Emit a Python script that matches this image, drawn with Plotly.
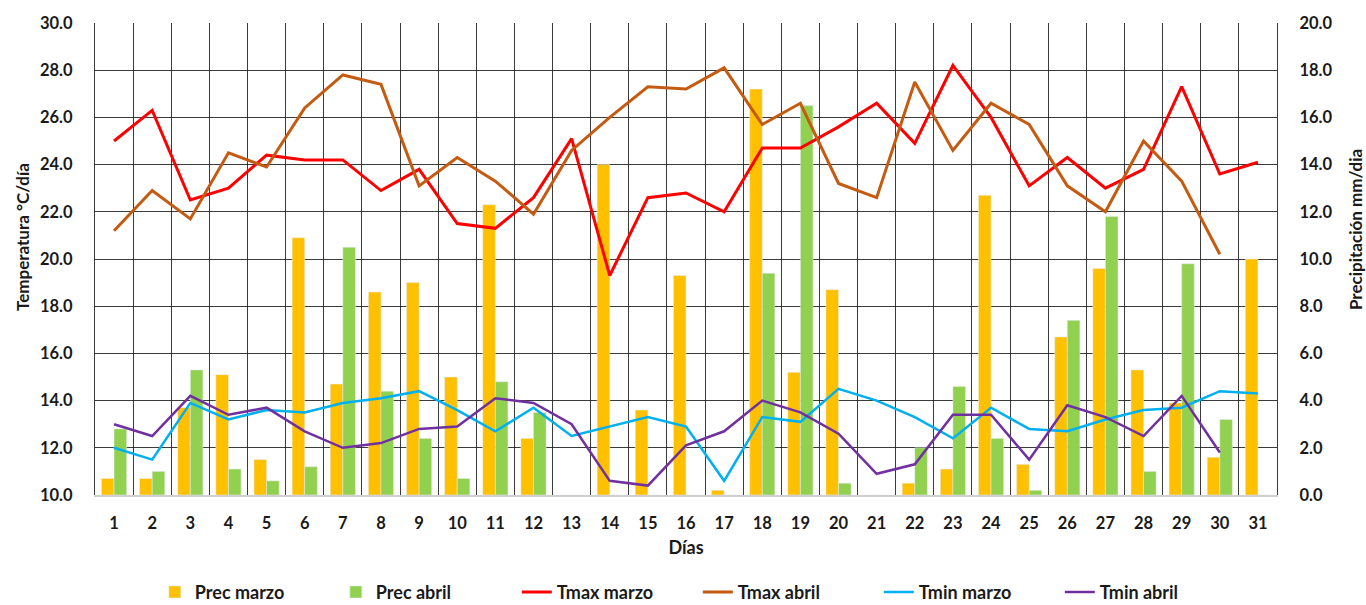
import plotly.graph_objects as go

dias = list(range(1, 32))

prec_marzo = [0.7, 0.7, 3.7, 5.1, 1.5, 10.9, 4.7, 8.6, 9.0, 5.0, 12.3, 2.4, 0.0, 14.0, 3.6, 9.3,
              0.2, 17.2, 5.2, 8.7, 0.0, 0.5, 1.1, 12.7, 1.3, 6.7, 9.6, 5.3, 3.9, 1.6, 10.0]
prec_abril = [2.8, 1.0, 5.3, 1.1, 0.6, 1.2, 10.5, 4.4, 2.4, 0.7, 4.8, 3.5, 0.0, 0.0, 0.0, 0.0,
              0.0, 9.4, 16.5, 0.5, 0.0, 2.0, 4.6, 2.4, 0.2, 7.4, 11.8, 1.0, 9.8, 3.2, 0.0]
tmax_marzo = [25.0, 26.3, 22.5, 23.0, 24.4, 24.2, 24.2, 22.9, 23.8, 21.5, 21.3, 22.6, 25.1, 19.3,
              22.6, 22.8, 22.0, 24.7, 24.7, 25.6, 26.6, 24.9, 28.2, 26.0, 23.1, 24.3, 23.0, 23.8,
              27.3, 23.6, 24.1]
tmax_abril = [21.2, 22.9, 21.7, 24.5, 23.9, 26.4, 27.8, 27.4, 23.1, 24.3, 23.3, 21.9, 24.6, 26.0,
              27.3, 27.2, 28.1, 25.7, 26.6, 23.2, 22.6, 27.5, 24.6, 26.6, 25.7, 23.1, 22.0, 25.0,
              23.3, 20.2, None]
tmin_marzo = [12.0, 11.5, 13.9, 13.2, 13.6, 13.5, 13.9, 14.1, 14.4, 13.6, 12.7, 13.7, 12.5, 12.9,
              13.3, 12.9, 10.6, 13.3, 13.1, 14.5, 14.0, 13.3, 12.4, 13.7, 12.8, 12.7, 13.2, 13.6,
              13.7, 14.4, 14.3]
tmin_abril = [13.0, 12.5, 14.2, 13.4, 13.7, 12.7, 12.0, 12.2, 12.8, 12.9, 14.1, 13.9, 13.0, 10.6,
              10.4, 12.1, 12.7, 14.0, 13.5, 12.6, 10.9, 11.3, 13.4, 13.4, 11.5, 13.8, 13.3, 12.5,
              14.2, 11.8, None]

FONT = "Lato"
GRID = "rgba(25,25,25,0.85)"
TXT = "#1a1a1a"

fig = go.Figure()
fig.add_trace(go.Bar(x=dias, y=prec_marzo, name="Prec marzo", marker_color="#FFC000",
                     yaxis="y"))
fig.add_trace(go.Bar(x=dias, y=prec_abril, name="Prec abril", marker_color="#92D050",
                     yaxis="y"))
fig.add_trace(go.Scatter(x=dias, y=tmax_marzo, name="Tmax marzo", mode="lines",
                         line=dict(color="#FF0000", width=3), yaxis="y2"))
fig.add_trace(go.Scatter(x=dias, y=tmax_abril, name="Tmax abril", mode="lines",
                         line=dict(color="#C55A11", width=3), yaxis="y2"))
fig.add_trace(go.Scatter(x=dias, y=tmin_marzo, name="Tmin marzo", mode="lines",
                         line=dict(color="#00B0F0", width=2.5), yaxis="y2"))
fig.add_trace(go.Scatter(x=dias, y=tmin_abril, name="Tmin abril", mode="lines",
                         line=dict(color="#7030A0", width=2.5), yaxis="y2"))

fig.update_layout(
    width=1366, height=605,
    margin=dict(l=95, r=89, t=23, b=110, autoexpand=False),
    paper_bgcolor="white", plot_bgcolor="white",
    font=dict(family=FONT, size=16, color=TXT),
    barmode="group", bargap=0.34, bargroupgap=0,
    showlegend=True,
    legend=dict(orientation="h", x=0.51, xanchor="center", y=-0.206, yanchor="middle",
                font=dict(family=FONT, size=18, color=TXT, weight="bold"),
                entrywidth=136, traceorder="normal", itemwidth=30,
                tracegroupgap=0),
    xaxis=dict(
        range=[0.5, 31.5], tickmode="linear", tick0=1, dtick=1,
        showgrid=False, zeroline=False,
        showline=True, linecolor="#D0D0D0", linewidth=1.5,
        tickfont=dict(family=FONT, size=16.5, weight="bold", color=TXT),
        ticks="", ticklabelstandoff=12,
        minor=dict(tickmode="array", tickvals=[d - 0.5 for d in dias] + [31.5],
                   showgrid=True, gridcolor=GRID, gridwidth=1.3),
        title=dict(text="Días", font=dict(family=FONT, size=18, weight="bold", color=TXT),
                   standoff=10),
    ),
    yaxis=dict(
        side="right", range=[0, 20], tickmode="linear", tick0=0, dtick=2,
        tickformat=".1f", showgrid=True, gridcolor=GRID, gridwidth=1.3,
        zeroline=False, showline=True, linecolor=GRID, linewidth=1.3,
        tickfont=dict(family=FONT, size=16.5, weight="bold", color=TXT), ticklabelstandoff=18,
    ),
    yaxis2=dict(
        overlaying="y", side="left", range=[10, 30], tickmode="linear", tick0=10, dtick=2,
        tickformat=".1f", showgrid=False, zeroline=False,
        showline=True, linecolor=GRID, linewidth=1.3,
        tickfont=dict(family=FONT, size=16.5, weight="bold", color=TXT), ticklabelstandoff=18,
    ),
    annotations=[
        dict(text="Temperatura °C/día", xref="paper", yref="paper", x=-0.0618, y=0.5466,
             xanchor="center", yanchor="middle", textangle=-90, showarrow=False,
             font=dict(family=FONT, size=17, weight="bold", color=TXT)),
        dict(text="Precipitación mm/dia", xref="paper", yref="paper", x=1.066, y=0.5614,
             xanchor="center", yanchor="middle", textangle=-90, showarrow=False,
             font=dict(family=FONT, size=17, weight="bold", color=TXT)),
    ],
)

fig.write_html("out.html", config={"displayModeBar": False},
               post_script="document.body.style.margin='0';")
